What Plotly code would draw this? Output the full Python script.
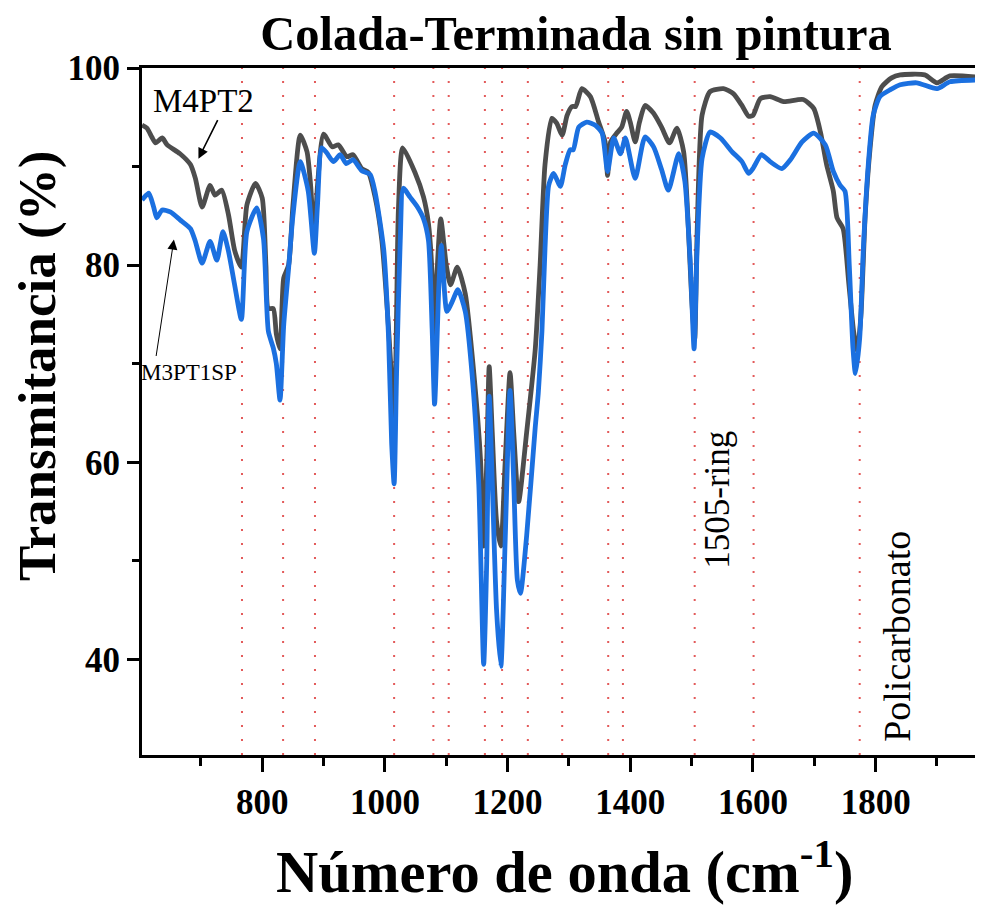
import plotly.graph_objects as go

# wavenumber (cm-1) / transmittance (%)
wn_m4 = [604, 612, 620, 626, 637, 645, 666, 683, 691, 702, 715, 723, 734, 745, 755, 766,
         775, 789, 800, 806, 810, 818, 823, 829, 835, 843, 850, 862, 873, 879, 885, 890,
         900, 914, 924, 938, 948, 962, 973, 984, 995, 1006, 1012, 1015, 1019, 1022, 1029,
         1049, 1063, 1071, 1077, 1080, 1084, 1091, 1100, 1107, 1118, 1131, 1145, 1156, 1161,
         1166, 1170, 1175, 1182, 1189, 1196, 1204, 1210, 1218, 1231, 1245, 1253, 1261, 1272,
         1280, 1289, 1297, 1305, 1311, 1321, 1335, 1348, 1359, 1363, 1368, 1378, 1386, 1394,
         1400, 1408, 1415, 1424, 1438, 1451, 1464, 1476, 1487, 1495, 1500, 1505, 1509, 1517,
         1530, 1552, 1568, 1582, 1593, 1600, 1612, 1628, 1650, 1682, 1699, 1710, 1720, 1731,
         1737, 1747, 1756, 1764, 1770, 1776, 1783, 1791, 1799, 1810, 1826, 1840, 1880, 1900,
         1921, 1975]
t_m4 = [94.2, 93.9, 93.0, 92.4, 92.9, 92.2, 91.3, 90.2, 88.8, 85.9, 88.1, 87.1, 87.6, 85.1, 81.5, 79.8,
        86.1, 88.3, 86.8, 80.0, 75.6, 75.6, 73.0, 71.5, 78.7, 80.0, 86.0, 93.2, 91.5, 88.0, 82.5, 88.0,
        93.3, 92.0, 92.2, 91.0, 91.2, 89.8, 89.4, 86.9, 82.5, 73.5, 67.0, 61.5, 75.0, 85.6, 91.9,
        89.4, 86.9, 84.2, 78.9, 69.5, 78.0, 84.7, 80.0, 78.0, 79.8, 77.1, 69.0, 60.1, 51.5,
        60.0, 69.7, 63.0, 54.0, 51.5, 60.0, 69.1, 63.0, 56.0, 63.0, 71.4, 80.0, 90.2, 94.9,
        94.4, 93.2, 95.2, 96.1, 96.1, 97.9, 97.1, 94.6, 92.5, 89.1, 92.5, 93.4, 94.0, 95.6,
        94.5, 92.5, 94.5, 96.2, 95.4, 94.0, 92.4, 93.9, 91.5, 83.4, 76.7, 72.5, 83.4, 95.2,
        97.6, 97.9, 97.4, 96.2, 95.1, 95.2, 96.9, 97.1, 96.6, 96.8, 95.9, 93.5, 90.2, 87.5,
        84.8, 83.7, 78.3, 73.3, 71.2, 74.9, 85.1, 91.9, 96.2, 98.1, 99.0, 99.3, 99.3, 98.5,
        99.2, 99.0]

wn_m3 = [604, 615, 623, 628, 637, 650, 666, 683, 691, 702, 715, 726, 736, 745, 755, 766,
         775, 791, 802, 810, 818, 823, 829, 835, 843, 850, 862, 875, 885, 890, 897, 905,
         916, 927, 937, 948, 962, 976, 984, 998, 1006, 1011, 1015, 1019, 1025, 1030, 1041,
         1052, 1063, 1071, 1077, 1081, 1088, 1092, 1101, 1109, 1119, 1131, 1142, 1153, 1161,
         1166, 1170, 1175, 1182, 1189, 1196, 1204, 1210, 1216, 1221, 1231, 1245, 1250, 1256,
         1261, 1267, 1275, 1286, 1294, 1302, 1307, 1316, 1329, 1343, 1354, 1363, 1373, 1384,
         1392, 1408, 1424, 1438, 1451, 1462, 1479, 1489, 1498, 1504, 1509, 1517, 1530, 1547,
         1566, 1582, 1593, 1600, 1614, 1628, 1647, 1661, 1680, 1699, 1718, 1731, 1742, 1750,
         1757, 1763, 1767, 1774, 1780, 1788, 1796, 1807, 1824, 1840, 1867, 1900, 1921, 1975]
t_m3 = [86.6, 87.3, 85.9, 84.8, 85.6, 85.4, 84.6, 83.7, 82.4, 80.2, 82.4, 80.5, 83.4, 81.4, 78.0, 74.5,
        83.4, 85.8, 82.7, 73.3, 71.6, 70.0, 66.3, 73.9, 79.7, 85.0, 90.5, 87.5, 81.2, 86.0, 91.9, 91.4,
        90.5, 91.2, 90.3, 90.7, 89.6, 89.2, 87.4, 81.6, 72.6, 61.9, 57.8, 69.0, 82.5, 87.8, 86.9,
        86.0, 84.7, 82.5, 73.5, 65.9, 78.0, 82.0, 75.3, 76.2, 77.5, 75.3, 69.0, 57.8, 39.5,
        50.0, 66.7, 58.0, 45.0, 39.3, 52.0, 67.3, 58.0, 48.0, 46.7, 52.5, 63.5, 67.0, 73.3,
        81.7, 88.1, 89.3, 88.0, 90.2, 91.7, 91.7, 94.0, 94.5, 94.2, 93.4, 89.5, 92.9, 91.3,
        92.9, 88.8, 93.0, 92.0, 89.7, 87.6, 91.3, 88.5, 80.0, 71.5, 81.7, 90.8, 93.5, 92.9,
        91.5, 90.5, 89.3, 89.8, 91.2, 90.5, 89.8, 90.7, 92.5, 93.4, 92.2, 89.5, 88.1, 87.5,
        80.0, 71.6, 69.0, 72.6, 81.7, 90.2, 95.2, 97.1, 97.8, 98.3, 98.5, 97.9, 98.6, 98.8]

# marked band positions (dotted red lines)
bands = [767, 834, 886, 1015, 1079, 1104, 1163, 1191, 1233, 1289, 1364, 1388, 1505, 1601, 1774]

SERIF = "Liberation Serif, Times New Roman, serif"

fig = go.Figure()
for b in bands:
    fig.add_vline(x=b, line=dict(color="#e35a5a", width=2, dash="2px,12px"), layer="below")

fig.add_trace(go.Scatter(x=wn_m4, y=t_m4, mode="lines", name="M4PT2",
                         line=dict(color="#4d4d4d", width=4.8, shape="spline", smoothing=0.6)))
fig.add_trace(go.Scatter(x=wn_m3, y=t_m3, mode="lines", name="M3PT1SP",
                         line=dict(color="#1b70e0", width=4.8, shape="spline", smoothing=0.6)))

# labels and arrows
fig.add_annotation(x=705, y=96.7, text="M4PT2", showarrow=False,
                   font=dict(family=SERIF, size=33, color="black"))
fig.add_annotation(x=696, y=90.8, ax=20, ay=-40, text="", showarrow=True,
                   arrowhead=2, arrowsize=1.3, arrowwidth=1.6, arrowcolor="black")
fig.add_annotation(x=681, y=69.1, text="M3PT1SP", showarrow=False,
                   font=dict(family=SERIF, size=23, color="black"))
fig.add_annotation(x=656, y=82.6, ax=-18, ay=118, text="", showarrow=True,
                   arrowhead=2, arrowsize=2, arrowwidth=1, arrowcolor="black")
fig.add_annotation(x=1543, y=56.2, text="1505-ring", textangle=-90, showarrow=False,
                   font=dict(family=SERIF, size=35, color="black"))
fig.add_annotation(x=1835, y=42.3, text="Policarbonato", textangle=-90, showarrow=False,
                   font=dict(family=SERIF, size=38, color="black"))

# axis titles
fig.add_annotation(xref="paper", yref="paper", x=0.502, y=-0.164, yanchor="middle",
                   text="<b>Número de onda (cm<sup>-1</sup>)</b>", showarrow=False,
                   font=dict(family=SERIF, size=58.5, color="black"))
fig.add_annotation(xref="paper", yref="paper", x=-0.125, y=0.566, xanchor="center",
                   text="<b>Transmitancia (%)</b>", textangle=-90, showarrow=False,
                   font=dict(family=SERIF, size=53, color="black"))

fig.update_layout(
    width=975, height=899,
    margin=dict(l=134, r=0, t=60, b=152),
    paper_bgcolor="white", plot_bgcolor="white",
    showlegend=False,
    title=dict(text="<b>Colada-Terminada sin pintura</b>", x=568 / 975, xanchor="center",
               y=1 - 25 / 899, yanchor="middle", font=dict(family=SERIF, size=48.5, color="black")),
)
tickfont = dict(family=SERIF, size=35, color="black", weight="bold")
fig.update_xaxes(
    range=[604, 1975], showgrid=False, zeroline=False,
    showline=True, linecolor="black", linewidth=3, mirror=True,
    tickmode="array", tickvals=[800, 1000, 1200, 1400, 1600, 1800],
    ticks="outside", ticklen=14, tickwidth=2.5, tickcolor="black", tickfont=tickfont,
    minor=dict(tickvals=[700, 900, 1100, 1300, 1500, 1700, 1900], ticks="outside",
               ticklen=8, tickwidth=2.5, tickcolor="black"),
)
fig.update_yaxes(
    range=[30.3, 100], showgrid=False, zeroline=False,
    showline=True, linecolor="black", linewidth=3, mirror=False,
    tickmode="array", tickvals=[40, 60, 80, 100],
    ticks="outside", ticklen=12, tickwidth=2.5, tickcolor="black", tickfont=tickfont,
    minor=dict(tickvals=[50, 70, 90], ticks="outside", ticklen=7, tickwidth=2.5, tickcolor="black"),
)

fig.write_html("out.html")
